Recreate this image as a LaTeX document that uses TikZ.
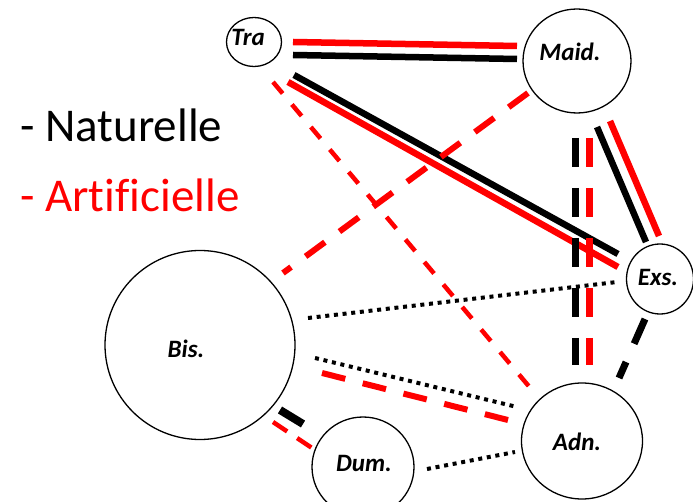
\documentclass[tikz,border=0pt]{standalone}
\usepackage{fontspec}
\setmainfont{Carlito}[Ligatures=NoCommon]
\usetikzlibrary{shapes.geometric}
\definecolor{artred}{RGB}{255,0,0}
\begin{document}
\begin{tikzpicture}[x=1pt,y=-1pt,
  site/.style={draw=black, line width=1.3pt, ellipse, inner sep=0pt},
  lbl/.style={font=\fontsize{25}{30}\selectfont\bfseries\itshape, inner sep=0pt},
  legend/.style={font=\fontsize{47}{52}\selectfont, inner sep=0pt, anchor=base west},
  heavy/.style={line width=6.5pt, line cap=butt},
  heavydash/.style={line width=7pt, line cap=butt, dash pattern=on 29pt off 21pt},
  longdash/.style={line width=6pt, line cap=butt, dash pattern=on 24pt off 18pt},
  thindash/.style={line width=4.5pt, line cap=butt, dash pattern=on 15pt off 14.4pt},
  dotline/.style={line width=4pt, line cap=butt, dash pattern=on 4pt off 4.7pt},
]
\useasboundingbox (0,0) rectangle (693,502);

% sites
\node[site, minimum width=55pt, minimum height=49pt]   (tra)  at (254,42)  {};
\node[site, minimum width=108pt, minimum height=104pt] (maid) at (577,61)  {};
\node[site, minimum width=67pt, minimum height=70pt]   (exs)  at (660,279) {};
\node[site, minimum width=190pt, minimum height=189pt] (bis)  at (200,345) {};
\node[site, minimum width=102pt, minimum height=100pt] (dum)  at (363,467) {};
\node[site, minimum width=121pt, minimum height=116pt] (adn)  at (582,441) {};

\node[lbl] (tra-t)  at (248,37)  {Tra};
\node[lbl] (maid-t) at (570,52)  {Maid.};
\node[lbl] (exs-t)  at (658,277) {Exs.};
\node[lbl] (bis-t)  at (186,349) {Bis.};
\node[lbl] (dum-t)  at (364,463) {Dum.};
\node[lbl] (adn-t)  at (577,442) {Adn.};

% legend
\node[legend] (nat) at (20,142) {- Naturelle};
\node[legend, text=artred] (art) at (20,212) {- Artificielle};

% link end points
\coordinate (tm-r1) at (293,42);  \coordinate (tm-r2) at (517,46);
\coordinate (tm-k1) at (293,55);  \coordinate (tm-k2) at (517,59);
\coordinate (te-k1) at (294,75);  \coordinate (te-k2) at (618,254);
\coordinate (te-r1) at (288,82);  \coordinate (te-r2) at (618,267);
\coordinate (ta-r1) at (273,82);  \coordinate (ta-r2) at (532,390);
\coordinate (mb-r1) at (528,93);  \coordinate (mb-r2) at (283,273);
\coordinate (ma-k1) at (575,138); \coordinate (ma-k2) at (575,365);
\coordinate (ma-r1) at (589,138); \coordinate (ma-r2) at (589,365);
\coordinate (me-k1) at (597,127); \coordinate (me-k2) at (646,242);
\coordinate (me-r1) at (610,121); \coordinate (me-r2) at (659,236);
\coordinate (be-k1) at (308,318); \coordinate (be-k2) at (617,282);
\coordinate (ba-k1) at (315,358); \coordinate (ba-k2) at (517,407);
\coordinate (ba-r1) at (322,373); \coordinate (ba-r2) at (508,420);
\coordinate (bd-k1) at (280,410); \coordinate (bd-k2) at (303,424);
\coordinate (bd-r1) at (273,422); \coordinate (bd-r2) at (312,448);
\coordinate (ea-k1) at (645,319); \coordinate (ea-k2) at (619,378);
\coordinate (da-k1) at (427,469); \coordinate (da-k2) at (515,452);

% Tra -- Maid.
\draw[heavy, artred] (tm-r1) -- (tm-r2);
\draw[heavy, black]  (tm-k1) -- (tm-k2);
% Tra -- Exs.
\draw[heavy, black]  (te-k1) -- (te-k2);
\draw[heavy, artred] (te-r1) -- (te-r2);
% Tra -- Adn.
\draw[thindash, artred] (ta-r1) -- (ta-r2);
% Maid. -- Bis.
\draw[longdash, artred] (mb-r1) -- (mb-r2);
% Maid. -- Adn.
\draw[heavydash, black]  (ma-k1) -- (ma-k2);
\draw[heavydash, artred] (ma-r1) -- (ma-r2);
% Maid. -- Exs.
\draw[heavy, black]  (me-k1) -- (me-k2);
\draw[heavy, artred] (me-r1) -- (me-r2);
% Bis. -- Exs.
\draw[dotline, black] (be-k1) -- (be-k2);
% Bis. -- Adn.
\draw[dotline, black] (ba-k1) -- (ba-k2);
\draw[longdash, artred] (ba-r1) -- (ba-r2);
% Bis. -- Dum.
\draw[line width=8pt, line cap=butt, black] (bd-k1) -- (bd-k2);
\draw[line width=4.5pt, line cap=butt, artred, dash pattern=on 17pt off 12pt] (bd-r1) -- (bd-r2);
% Exs. -- Adn.
\draw[line width=7pt, line cap=butt, black, dash pattern=on 27pt off 20pt] (ea-k1) -- (ea-k2);
% Dum. -- Adn.
\draw[dotline, black] (da-k1) -- (da-k2);
\end{tikzpicture}
\end{document}
